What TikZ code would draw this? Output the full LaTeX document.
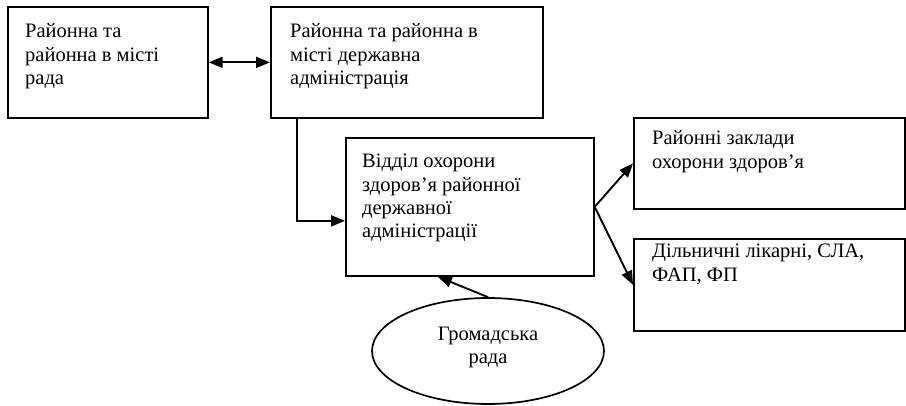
\documentclass[tikz,border=0pt]{standalone}
\usepackage{fontspec}
\setmainfont{Liberation Serif}
\usetikzlibrary{arrows.meta,calc,shapes.geometric}
\begin{document}
\begin{tikzpicture}[x=1pt,y=-1pt,
  box/.style={draw, line width=1.7pt, inner sep=0pt, anchor=north west},
  txt/.style={inner sep=0pt, anchor=base west, align=left, font=\fontsize{20.5}{23.3}\selectfont},
  arr/.style={line width=1.9pt, -{Triangle[length=14pt,width=11pt]}},
  darr/.style={line width=1.9pt, {Triangle[length=14pt,width=11pt]}-{Triangle[length=14pt,width=11pt]}}]
\useasboundingbox[fill=white] (0,0) rectangle (906,406);
\node[box, minimum width=200pt, minimum height=111pt] (A) at (7,6) {};
\node[box, minimum width=272pt, minimum height=111pt] (B) at (270,6) {};
\node[box, minimum width=248pt, minimum height=138pt] (C) at (345,137) {};
\node[box, minimum width=271pt, minimum height=91pt] (D) at (633,117) {};
\node[box, minimum width=271pt, minimum height=92pt] (E) at (633,238) {};
\node[draw, line width=1.7pt, ellipse, minimum width=232pt, minimum height=106pt, inner sep=0pt] (G) at (488,351) {};
\node[txt] (tA) at (25,84.6) {Районна та\\районна в місті\\рада};
\node[txt] (tB) at (290,84.6) {Районна та районна в\\місті державна\\адміністрація};
\node[txt] (tC) at (362,237.9) {Відділ охорони\\здоров’я районної\\державної\\адміністрації};
\node[txt] (tD) at (652,168.3) {Районні заклади\\охорони здоров’я};
\node[txt] (tE) at (652,281.3) {Дільничні лікарні, СЛА,\\ФАП, ФП};
\node[txt, anchor=base, align=center] (tG) at (488,364) {Громадська\\рада};
\draw[darr] (A.east) -- (B.west);
\draw[arr] ([xshift=27pt]B.south west) |- ([yshift=-14pt]C.west);
\draw[arr] (C.east) -- (D.west);
\draw[arr] (C.east) -- (E.west);
\draw[arr] (G.north) -- ([xshift=-32pt]C.south);
\end{tikzpicture}
\end{document}
